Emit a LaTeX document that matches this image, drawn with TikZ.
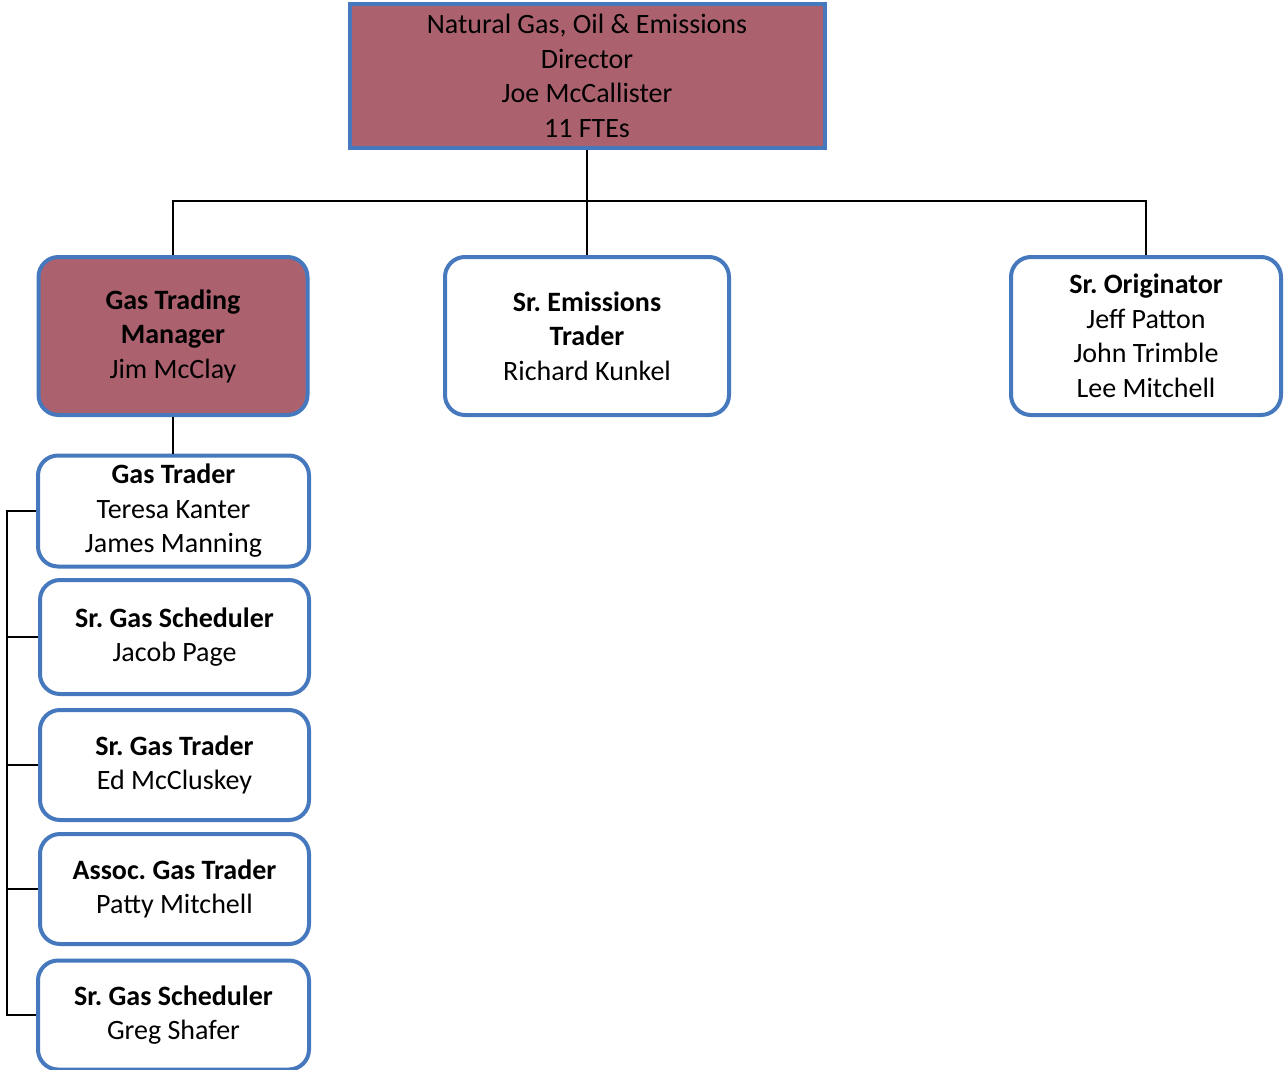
\documentclass[tikz,border=0pt]{standalone}
\usepackage{fontspec}
\setmainfont{Carlito}
\frenchspacing
\definecolor{mauve}{RGB}{172,98,110}
\definecolor{edgeblue}{RGB}{70,120,190}
\begin{document}
\begin{tikzpicture}[x=0.75pt,y=-0.75pt,
  box/.style={draw=edgeblue,line width=3pt,rounded corners=15pt,fill=white,
    align=center,inner sep=0pt,font=\fontsize{21}{25.9}\selectfont},
  lead/.style={box,fill=mauve},
  size/.style 2 args={minimum width=#1*0.75pt,minimum height=#2*0.75pt},
  link/.style={line width=1.5pt,black}]
\useasboundingbox[fill=white] (0,0) rectangle (1284,1070);

% director
\node[lead,rounded corners=0pt,size={475}{144}] (dir) at (587,76)
  {Natural Gas, Oil \& Emissions\\Director\\Joe McCallister\\11 FTEs};

% second level
\node[lead,size={269}{158}] (mgr) at (173,336)
  {\textbf{Gas Trading}\\\textbf{Manager}\\Jim McClay};
\node[box,size={284}{158}] (emi) at (587,336)
  {\textbf{Sr. Emissions}\\\textbf{Trader}\\Richard Kunkel};
\node[box,size={270}{158}] (ori) at (1146,336)
  {\textbf{Sr. Originator}\\Jeff Patton\\John Trimble\\Lee Mitchell};

% gas trading team
\node[box,size={271}{111}] (gt) at (173.5,511)
  {\textbf{Gas Trader}\\Teresa Kanter\\James Manning};
\node[box,size={269}{114}] (gs1) at (174.5,637)
  {\textbf{Sr. Gas Scheduler}\\Jacob Page};
\node[box,size={269}{110}] (sgt) at (174.5,765)
  {\textbf{Sr. Gas Trader}\\Ed McCluskey};
\node[box,size={269}{110}] (agt) at (174.5,889)
  {\textbf{Assoc. Gas Trader}\\Patty Mitchell};
\node[box,size={271}{109}] (gs2) at (173.5,1015)
  {\textbf{Sr. Gas Scheduler}\\Greg Shafer};

% connectors
\coordinate (bus) at (587,201);
\coordinate (lbus) at (7,0);
\draw[link] (dir.south) -- (bus);
\draw[link] (mgr.north) |- (bus) -| (ori.north);
\draw[link] (bus) -- (emi.north);
\draw[link] (mgr.south) -- (mgr.south |- gt.north);
\draw[link] (gt.west) -- (gt.west -| lbus) -- (gs2.west -| lbus) -- (gs2.west);
\draw[link] (gs1.west) -- (gs1.west -| lbus);
\draw[link] (sgt.west) -- (sgt.west -| lbus);
\draw[link] (agt.west) -- (agt.west -| lbus);
\end{tikzpicture}
\end{document}
